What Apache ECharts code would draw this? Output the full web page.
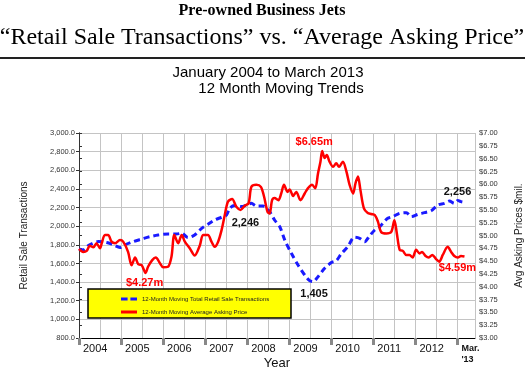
<!DOCTYPE html>
<html>
<head>
<meta charset="utf-8">
<script src="https://cdn.jsdelivr.net/npm/echarts@6/dist/echarts.min.js"></script>
<style>html,body{margin:0;padding:0;background:#fff;}#c{width:525px;height:371px;}</style>
</head>
<body>
<div id="c"></div>
<script>
// Month index (0 = Jan 2004) and values
const blueMonths = [0,1.2,2.6,3.6,5.5,7.9,9.8,11.7,13.1,15.5,17.9,20.2,22.6,25.4,27.8,29.3,31.1,33.0,35.0,36.8,38.7,40.7,42.1,43.0,44.4,46.4,47.8,49.2,50.6,52.5,54.4,55.8,57.3,58.7,60.6,62.5,64.4,65.8,66.8,68.2,70.1,72.0,73.4,74.8,76.7,78.6,80.1,81.5,82.9,84.4,85.8,86.7,88.1,89.5,91.5,93.4,94.8,96.7,98.6,100.5,102.4,104.3,105.7,107.1,108.1,109.0,110];
const blueValues = [1755,1745,1790,1810,1835,1825,1800,1772,1800,1835,1862,1887,1905,1916,1916,1924,1878,1905,1977,2021,2066,2096,2120,2192,2221,2210,2227,2246,2216,2216,2155,2066,1994,1852,1709,1583,1476,1415,1405,1458,1548,1609,1630,1701,1780,1881,1870,1834,1895,1959,1994,2031,2084,2102,2138,2145,2102,2127,2145,2166,2227,2245,2270,2245,2275,2263,2256];
const redMonths = [0,1.2,2.2,3.1,4.1,5.0,6.0,6.5,7.4,8.3,9.3,10.3,11.7,12.6,14.0,15.0,16.0,16.9,17.9,19.0,19.7,20.9,21.9,23.1,24.0,25.4,26.4,27.2,28.3,29.3,30.2,31.6,33.0,34.5,35.4,36.8,37.8,38.7,39.7,40.7,41.6,42.5,43.7,44.9,46.1,47.3,48.4,49.2,50.6,51.9,52.8,53.8,54.4,55.1,55.8,56.9,57.7,58.5,59.5,60.1,61.1,62.0,63.2,64.4,65.3,66.5,67.4,68.2,68.9,69.4,70.1,70.7,71.5,72.5,73.4,74.2,75.3,76.3,77.2,78.2,78.9,79.6,80.3,81.3,82.4,83.4,84.4,85.3,86.2,87.7,89.1,90.0,90.7,91.5,92.4,93.4,94.3,95.2,96.2,97.2,97.9,98.9,99.8,100.8,101.9,102.8,103.8,105.2,106.2,107.1,108.1,109.0,110];
const redValues = [4.74,4.68,4.70,4.80,4.77,4.85,4.75,4.85,5.01,5.01,4.88,4.85,4.91,4.88,4.68,4.42,4.57,4.44,4.42,4.27,4.39,4.52,4.57,4.46,4.38,4.39,4.59,5.01,4.85,5.01,4.88,4.75,4.61,4.81,5.01,5.01,4.88,4.78,4.88,5.11,5.40,5.66,5.71,5.56,5.50,5.58,5.63,5.95,5.99,5.95,5.76,5.46,5.43,5.69,5.73,5.69,5.82,5.99,5.85,5.90,5.77,5.85,5.69,5.82,5.92,5.99,5.92,6.21,6.44,6.65,6.51,6.57,6.44,6.34,6.41,6.34,6.44,6.25,5.99,5.82,6.02,6.15,5.89,5.53,5.44,5.42,5.40,5.27,5.07,5.04,5.07,5.30,5.04,4.72,4.70,4.62,4.62,4.57,4.72,4.65,4.68,4.60,4.57,4.62,4.54,4.49,4.62,4.78,4.68,4.60,4.57,4.60,4.59];
const yearLabels = ['2004','2005','2006','2007','2008','2009','2010','2011','2012','Mar.\n\'13'];
const blueName = '12-Month Moving Total Retail Sale Transactions';
const redName = '12-Month Moving Average Asking Price';
// annotated points: [month, value, text]
const blueNotes = [[49.2,2246,'2,246'],[66.8,1405,'1,405'],[110,2256,'2,256']];
const redNotes = [[69.4,6.65,'$6.65m'],[19.0,4.27,'$4.27m'],[110,4.59,'$4.59m']];

const blueOffsets = [[-6,20],[1,12],[-7,-10]];
const redOffsets = [[-8,-9],[-1,10],[-7,11]];

const chart = echarts.init(document.getElementById('c'), null, {renderer:'canvas'});
const pair = (xs, ys) => xs.map((x,i)=>[x, ys[i]]);
const fmtThousands = v => v.toLocaleString('en-US',{minimumFractionDigits:1,maximumFractionDigits:1});

const option = {
  animation:false,
  backgroundColor:'#fff',
  grid:{left:79,right:50,top:133,bottom:33,containLabel:false,outerBoundsMode:'none'},
  graphic:[
    {type:'text',x:262,y:11,z:10,style:{text:'Pre-owned Business Jets',font:'bold 16px "Liberation Serif"',fill:'#000',textAlign:'center',textVerticalAlign:'middle'}},
    {type:'text',x:262,y:38,z:10,style:{text:'\u201cRetail Sale Transactions\u201d vs. \u201cAverage Asking Price\u201d',font:'24px "Liberation Serif"',fill:'#000',textAlign:'center',textVerticalAlign:'middle'}},
    {type:'line',z:10,shape:{x1:0,y1:58,x2:525,y2:58},style:{stroke:'#222',lineWidth:2}},
    {type:'text',x:268,y:73,z:10,style:{text:'January 2004 to March 2013',font:'15px "Liberation Sans"',fill:'#000',textAlign:'center',textVerticalAlign:'middle'}},
    {type:'text',x:281,y:89,z:10,style:{text:'12 Month Moving Trends',font:'15px "Liberation Sans"',fill:'#000',textAlign:'center',textVerticalAlign:'middle'}},
    {type:'rect',z:5,shape:{x:88,y:289,width:203,height:29},style:{fill:'#ffff00',stroke:'#000',lineWidth:1.5}}
  ],
  legend:{
    orient:'vertical',left:116,top:291,z:10,
    itemWidth:16,itemHeight:3,itemGap:7,
    textStyle:{fontFamily:'Liberation Sans',fontSize:6,color:'#222'},
    data:[
      {name:blueName,icon:'path://M0 0h7v3H0z M10 0h7v3h-7z',itemStyle:{color:'#1a1aff'}},
      {name:redName,icon:'rect',itemStyle:{color:'#ff0000'}}
    ]
  },
  xAxis:[
    {type:'value',min:0,max:113,interval:6,position:'bottom',
     axisLine:{show:false},axisTick:{show:false},axisLabel:{show:false},
     splitLine:{show:true,lineStyle:{color:'#c4c4c4',width:1}}},
    {type:'value',min:0,max:113,interval:12,position:'bottom',
     name:'Year',nameLocation:'middle',nameGap:19,nameMoveOverlap:false,
     nameTextStyle:{fontFamily:'Liberation Sans',fontSize:13,color:'#111'},
     axisLine:{show:true,lineStyle:{color:'#000',width:1}},
     axisTick:{show:true,length:7,lineStyle:{color:'#888',width:3}},
     splitLine:{show:false},
     axisLabel:{show:true,showMaxLabel:false,align:'left',margin:5,padding:[0,0,0,4],
       fontFamily:'Liberation Sans',fontSize:11,color:'#111',lineHeight:11,
       formatter:v=>{const i=Math.round(v/12); if(i===9) return '{b|Mar.}\n{b|\'13}'; return yearLabels[i]||'';},
       rich:{b:{fontFamily:'Liberation Sans',fontSize:9,fontWeight:'bold',color:'#111',lineHeight:11}}}}
  ],
  yAxis:[
    {type:'value',min:800,max:3000,interval:200,position:'left',
     name:'Retail Sale Transactions',nameLocation:'middle',nameGap:50,nameRotate:90,
     nameTextStyle:{fontFamily:'Liberation Sans',fontSize:10,color:'#222'},
     axisLine:{show:true,lineStyle:{color:'#333'}},
     axisTick:{show:true,length:3,lineStyle:{color:'#333'}},
     axisLabel:{fontFamily:'Liberation Sans',fontSize:7.5,color:'#333',margin:4,formatter:fmtThousands},
     splitLine:{show:true,lineStyle:{color:'#c4c4c4',width:1}}},
    {type:'value',min:3,max:7,interval:0.25,position:'right',
     name:'Avg Asking Prices $mil.',nameLocation:'middle',nameGap:39,nameRotate:90,
     nameTextStyle:{fontFamily:'Liberation Sans',fontSize:10,color:'#222'},
     axisLine:{show:true,lineStyle:{color:'#333'}},
     axisTick:{show:true,length:3,lineStyle:{color:'#333'}},
     axisLabel:{fontFamily:'Liberation Sans',fontSize:7.5,color:'#333',margin:4,formatter:v=>'$'+v.toFixed(2)},
     splitLine:{show:false}}
  ],
  series:[
    {name:blueName,type:'line',xAxisIndex:0,yAxisIndex:0,data:pair(blueMonths,blueValues),
     smooth:0.3,symbol:'none',showSymbol:false,z:3,
     lineStyle:{color:'#1a1aff',width:3,type:[6,4]},itemStyle:{color:'#1a1aff'},
     markPoint:{symbol:'circle',symbolSize:0,silent:true,
       data:blueNotes.map((n,i)=>({coord:[n[0],n[1]],value:n[2],
         label:{show:true,formatter:n[2],offset:blueOffsets[i],fontFamily:'Liberation Sans',fontSize:11,fontWeight:'bold',color:'#111'}}))}},
    {name:redName,type:'line',xAxisIndex:0,yAxisIndex:1,data:pair(redMonths,redValues),
     smooth:0.3,symbol:'none',showSymbol:false,z:4,
     lineStyle:{color:'#ff0000',width:2.5},itemStyle:{color:'#ff0000'},
     markPoint:{symbol:'circle',symbolSize:0,silent:true,
       data:redNotes.map((n,i)=>({coord:[n[0],n[1]],value:n[2],
         label:{show:true,formatter:n[2],offset:redOffsets[i],fontFamily:'Liberation Sans',fontSize:11,fontWeight:'bold',color:'#ff0000'}}))}}
  ]
};
chart.setOption(option);
</script>
</body>
</html>
